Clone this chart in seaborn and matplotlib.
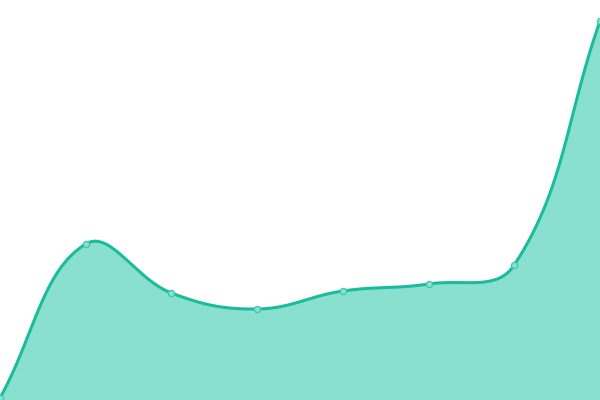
import numpy as np
import pandas as pd
import matplotlib
matplotlib.use("Agg")
import matplotlib.pyplot as plt
import seaborn as sns

# Data
idx = [0, 1, 2, 3, 4, 5, 6, 7]
values = [2, 156, 107, 91, 109, 116, 135, 379]

line_color = "#1abc9c"
fill_color = "#8ae0cf"

def chart_spline(xs, ys, tension=0.4, n=60, sx=600/7.0, sy=1.0):
    # work in pixel-like space for distance-weighted control points
    P = np.column_stack([np.asarray(xs, float) * sx, np.asarray(ys, float) * sy])
    m = len(P)
    prev_c = np.zeros_like(P); next_c = np.zeros_like(P)
    for i in range(m):
        p0 = P[max(i-1, 0)]; p1 = P[i]; p2 = P[min(i+1, m-1)]
        d01 = np.hypot(*(p1 - p0)); d12 = np.hypot(*(p2 - p1))
        s01 = d01 / (d01 + d12) if (d01 + d12) else 0
        s12 = d12 / (d01 + d12) if (d01 + d12) else 0
        fa = tension * s01; fb = tension * s12
        prev_c[i] = p1 - fa * (p2 - p0)
        next_c[i] = p1 + fb * (p2 - p0)
    t = np.linspace(0, 1, n)[:, None]
    out = []
    for i in range(m - 1):
        a, b, c, d = P[i], next_c[i], prev_c[i+1], P[i+1]
        seg = (1-t)**3*a + 3*(1-t)**2*t*b + 3*(1-t)*t**2*c + t**3*d
        out.append(seg)
    out = np.vstack(out)
    return out[:, 0] / sx, out[:, 1] / sy

sns.set_style("white")
fig = plt.figure(figsize=(6, 4), dpi=100)
ax = fig.add_axes([0, 0, 1, 1])

cx, cy = chart_spline(idx, values)
ax.fill_between(cx, 0, cy, color=fill_color, linewidth=0, zorder=1)
sns.lineplot(x=cx, y=cy, ax=ax, color=line_color, linewidth=2.2, sort=False, zorder=2)
df = pd.DataFrame({"x": idx, "y": values})
sns.scatterplot(data=df, x="x", y="y", ax=ax, s=20, color=fill_color,
                edgecolor="#3ec9ab", linewidth=0.9, zorder=3, clip_on=False)

ax.set_xlim(0, 7)
ax.set_ylim(0, 400)
ax.axis("off")
fig.savefig("out.png", dpi=100, facecolor="white")
